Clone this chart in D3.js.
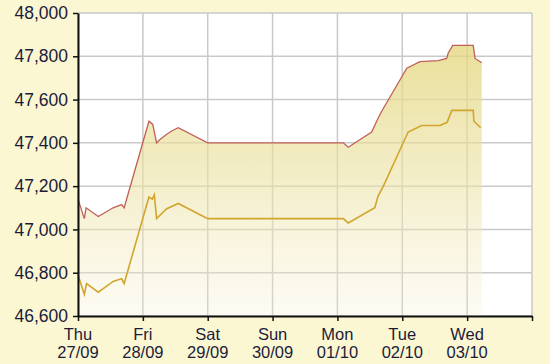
<!DOCTYPE html>
<html><head><meta charset="utf-8">
<script src="https://cdn.jsdelivr.net/npm/d3@7"></script>
<style>
html,body{margin:0;padding:0;background:#FBF7D3;}
svg{display:block;}
text{font-family:"Liberation Sans",Arial,sans-serif;}
</style></head>
<body>
<svg id="c" width="550" height="364"></svg>
<script>
// Sell price (red line)
const sellTimes = ["2012-09-27 00:00","2012-09-27 02:20","2012-09-27 03:00","2012-09-27 07:30","2012-09-27 13:00","2012-09-27 16:10","2012-09-27 17:05","2012-09-28 02:15","2012-09-28 03:40","2012-09-28 05:05","2012-09-28 06:20","2012-09-28 08:50","2012-09-28 10:40","2012-09-28 13:05","2012-09-29 00:00","2012-10-01 02:10","2012-10-01 04:00","2012-10-01 12:40","2012-10-01 15:05","2012-10-01 16:20","2012-10-02 01:40","2012-10-02 06:30","2012-10-02 13:20","2012-10-02 16:25","2012-10-02 17:00","2012-10-02 18:40","2012-10-03 02:15","2012-10-03 02:55","2012-10-03 05:25"];
const sellValues = [47140,47050,47100,47060,47100,47115,47100,47500,47485,47400,47415,47440,47455,47470,47400,47400,47380,47450,47515,47545,47745,47775,47780,47790,47815,47850,47850,47790,47770];
// Buy price (gold line)
const buyTimes = ["2012-09-27 00:00","2012-09-27 02:20","2012-09-27 03:10","2012-09-27 07:30","2012-09-27 13:00","2012-09-27 15:30","2012-09-27 16:10","2012-09-27 17:05","2012-09-28 02:15","2012-09-28 03:30","2012-09-28 04:15","2012-09-28 05:05","2012-09-28 08:50","2012-09-28 13:05","2012-09-29 00:00","2012-10-01 02:10","2012-10-01 04:00","2012-10-01 13:50","2012-10-01 15:05","2012-10-01 17:00","2012-10-02 02:10","2012-10-02 07:10","2012-10-02 14:00","2012-10-02 16:35","2012-10-02 18:20","2012-10-03 02:15","2012-10-03 02:30","2012-10-03 05:00"];
const buyValues = [46790,46700,46750,46710,46760,46770,46772,46750,47150,47140,47160,47050,47096,47120,47050,47050,47030,47100,47155,47200,47450,47480,47480,47495,47550,47550,47500,47470];
const dayTicks = ["2012-09-27","2012-09-28","2012-09-29","2012-09-30","2012-10-01","2012-10-02","2012-10-03","2012-10-04"];
const dayNames = ["Thu","Fri","Sat","Sun","Mon","Tue","Wed",""];
const dayDates = ["27/09","28/09","29/09","30/09","01/10","02/10","03/10",""];
const yTicks = [46600,46800,47000,47200,47400,47600,47800,48000];

const parseT = d3.timeParse("%Y-%m-%d %H:%M");
const parseD = d3.timeParse("%Y-%m-%d");
const sell = sellTimes.map((t,i)=>({t:parseT(t),v:sellValues[i]}));
const buy = buyTimes.map((t,i)=>({t:parseT(t),v:buyValues[i]}));
const days = dayTicks.map(parseD);

const svg = d3.select("#c");
const L=78, R=532, T=13, B=316;
const x = d3.scaleTime().domain([days[0], days[days.length-1]]).range([L,R]);
const y = d3.scaleLinear().domain([46600,48000]).range([B,T]);

svg.append("rect").attr("x",L).attr("y",T).attr("width",R-L).attr("height",B-T).attr("fill","#fff");

// grid
const g = svg.append("g");
g.selectAll("line.h").data(yTicks).join("line")
  .attr("x1",L).attr("x2",R).attr("y1",d=>y(d)).attr("y2",d=>y(d))
  .attr("stroke","#c9c9c9").attr("stroke-width",1.5);
g.selectAll("line.v").data(days).join("line")
  .attr("x1",d=>x(d)).attr("x2",d=>x(d)).attr("y1",T).attr("y2",B)
  .attr("stroke","#c9c9c9").attr("stroke-width",1.5);

// gradient
const defs = svg.append("defs");
const grad = defs.append("linearGradient").attr("id","gr")
  .attr("gradientUnits","userSpaceOnUse").attr("x1",0).attr("x2",0).attr("y1",y(47850)).attr("y2",B);
grad.append("stop").attr("offset",0).attr("stop-color","#E4D780").attr("stop-opacity",0.8);
grad.append("stop").attr("offset",0.5).attr("stop-color","#ECE2A4").attr("stop-opacity",0.6);
grad.append("stop").attr("offset",1).attr("stop-color","#F6F0D0").attr("stop-opacity",0.25);

const area = d3.area().x(d=>x(d.t)).y0(B).y1(d=>y(d.v));
svg.append("path").datum(sell).attr("d",area).attr("fill","url(#gr)");

const line = d3.line().x(d=>x(d.t)).y(d=>y(d.v));
svg.append("path").datum(sell).attr("d",line).attr("fill","none").attr("stroke","#C0605A").attr("stroke-width",1.3);
svg.append("path").datum(buy).attr("d",line).attr("fill","none").attr("stroke","#D2A52C").attr("stroke-width",1.6);

// axes
const yAxis = d3.axisLeft(y).tickValues(yTicks).tickSize(5).tickSizeOuter(0).tickPadding(5)
  .tickFormat(d3.format(","));
const ya = svg.append("g").attr("transform",`translate(${L},0)`).call(yAxis);
ya.select(".domain").attr("stroke","#111").attr("stroke-width",2);
ya.selectAll(".tick line").attr("stroke","#111").attr("stroke-width",1.5);
ya.selectAll("text").attr("font-size",17.5).attr("fill","#1c1c3a").attr("font-family","'Liberation Sans',Arial,sans-serif");

const xAxis = d3.axisBottom(x).tickValues(days).tickSize(5).tickSizeOuter(0).tickFormat("");
const xa = svg.append("g").attr("transform",`translate(0,${B})`).call(xAxis);
xa.select(".domain").attr("stroke","#111").attr("stroke-width",2);
xa.selectAll(".tick line").attr("stroke","#111").attr("stroke-width",1.5);

const lab = svg.append("g");
lab.selectAll("text.n").data(days).join("text")
  .attr("x",d=>x(d)).attr("y",340).attr("text-anchor","middle")
  .attr("font-size",16.5).attr("fill","#1c1c3a").text((d,i)=>dayNames[i]);
lab.selectAll("text.dd").data(days).join("text")
  .attr("x",d=>x(d)).attr("y",358).attr("text-anchor","middle")
  .attr("font-size",16.5).attr("fill","#1c1c3a").text((d,i)=>dayDates[i]);
</script>
</body></html>
